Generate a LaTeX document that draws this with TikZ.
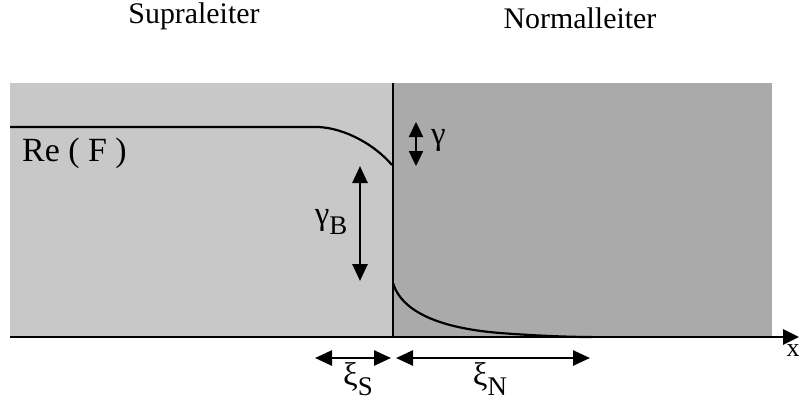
\documentclass[tikz,border=0pt]{standalone}
\usepackage{fontspec}
\setmainfont{Liberation Serif}
\usetikzlibrary{arrows.meta}
\definecolor{supra}{HTML}{C8C8C8}
\definecolor{normal}{HTML}{AAAAAA}
\tikzset{
  lab/.style={font=\fontsize{30}{34}\selectfont, inner sep=0pt},
  grk/.style={font=\fontsize{33}{36}\selectfont, inner sep=0pt},
  tip/.style={Triangle[length=17bp,width=15bp]},
  dbl/.style={line width=2.6bp, {Triangle[length=17bp,width=15bp]}-{Triangle[length=17bp,width=15bp]}},
  curve/.style={line width=2.2bp},
}
\newcommand{\sbx}[1]{\raisebox{-0.3em}{\fontsize{27}{28}\selectfont #1}}
\begin{document}
\begin{tikzpicture}[x=1bp,y=-1bp]
\useasboundingbox (0,0) rectangle (799,405);
\fill[supra] (10,83) rectangle (392,337);
\fill[normal] (392,83) rectangle (772,337);
\coordinate (a0) at (10,337);
\coordinate (a1) at (799,337);
\draw[line width=2.8bp, -{Triangle[length=16bp,width=15bp]}] (a0) -- (a1);
\coordinate (b0) at (393,83);
\coordinate (b1) at (393,337);
\draw[line width=2.4bp] (b0) -- (b1);
\draw[curve] (10,127) -- (318,127) .. controls (345,128) and (375,145) .. (392,165);
\draw[curve] (393,283) .. controls (403,316) and (450,329) .. (500,333) .. controls (540,336) and (570,337) .. (592,337);
% gamma
\coordinate (g0) at (416,122);
\coordinate (g1) at (416,166);
\draw[line width=2.4bp, {Triangle[length=15bp,width=14bp]}-{Triangle[length=15bp,width=14bp]}] (g0) -- (g1);
\node[grk, anchor=west] (gl) at (431,140) {γ};
% gamma_B
\coordinate (gb0) at (360,166);
\coordinate (gb1) at (360,281);
\draw[dbl] (gb0) -- (gb1);
\node[grk] (gbl) at (331,222) {γ\sbx{B}};
% xi_S
\coordinate (xs0) at (315,358);
\coordinate (xs1) at (391,358);
\draw[dbl] (xs0) -- (xs1);
\node[grk] (xsl) at (358,379) {ξ\sbx{S}};
% xi_N
\coordinate (xn0) at (396,358);
\coordinate (xn1) at (590,358);
\draw[dbl] (xn0) -- (xn1);
\node[grk] (xnl) at (490,379) {ξ\sbx{N}};
\node[lab] (sup) at (194,16) {Supraleiter};
\node[lab] (nor) at (580,18) {Normalleiter};
\node[lab, font=\fontsize{34}{36}\selectfont, anchor=west] (re) at (22,153) {Re ( F )};
\node[lab, font=\fontsize{26}{28}\selectfont, anchor=north] (xl) at (793,344) {x};
\end{tikzpicture}
\end{document}
